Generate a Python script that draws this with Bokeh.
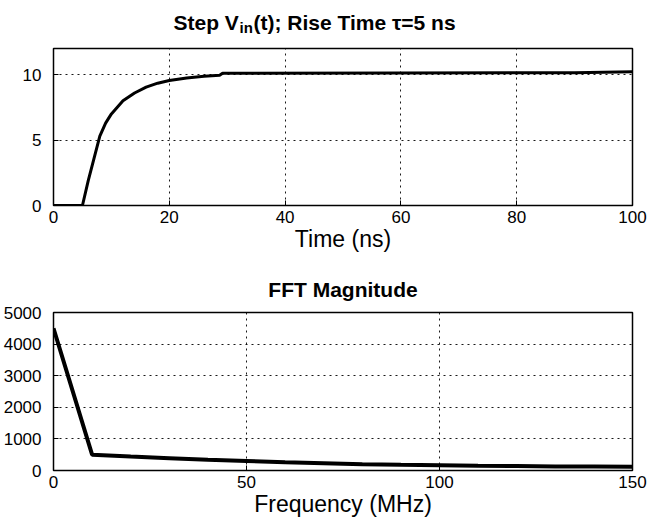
from bokeh.plotting import figure
from bokeh.layouts import column
from bokeh.models import Range1d, FixedTicker, Label
from bokeh.embed import file_html
from bokeh.resources import INLINE

# Step input V_in(t) sampled in ns
time_ns = [0, 5, 6, 7, 8, 9, 10, 12, 14, 16, 18, 20, 23, 26, 28.7, 29.2, 60, 90, 100]
vin = [0, 0, 1.9, 3.6, 5.3, 6.3, 7.0, 8.0, 8.6, 9.05, 9.35, 9.55, 9.75, 9.88, 9.95, 10.1, 10.13, 10.15, 10.22]

# FFT magnitude in MHz bins
freq_mhz = [0, 10, 20, 30, 40, 50, 60, 70, 80, 90, 100, 110, 120, 130, 140, 150]
fft_mag = [4500, 500, 440, 390, 340, 300, 260, 230, 200, 180, 165, 150, 140, 130, 125, 120]

top_xticks = [0, 20, 40, 60, 80, 100]
top_yticks = [0, 5, 10]
bot_xticks = [0, 50, 100, 150]
bot_yticks = [0, 1000, 2000, 3000, 4000, 5000]

FONT = "Liberation Sans"
TICK_SIZE = "17px"
LABEL_SIZE = "23px"
TITLE_SIZE = "21px"


def style(p, xticks, yticks, xlabel):
    p.outline_line_color = "black"
    p.outline_line_width = 1.5
    p.outline_line_alpha = 1.0
    p.background_fill_color = "white"
    p.border_fill_color = "white"
    p.xaxis.ticker = FixedTicker(ticks=xticks)
    p.yaxis.ticker = FixedTicker(ticks=yticks)
    for ax in (p.xaxis[0], p.yaxis[0]):
        ax.axis_line_color = None
        ax.major_tick_in = 5
        ax.major_tick_out = 0
        ax.major_tick_line_color = "black"
        ax.minor_tick_line_color = None
        ax.major_label_text_font = FONT
        ax.major_label_text_font_size = TICK_SIZE
        ax.major_label_text_color = "black"
    p.xaxis.major_label_standoff = 5
    p.yaxis.major_label_standoff = 12
    p.xaxis.axis_label = xlabel
    p.xaxis.axis_label_text_font = FONT
    p.xaxis.axis_label_text_font_size = LABEL_SIZE
    p.xaxis.axis_label_text_font_style = "normal"
    p.xaxis.axis_label_text_color = "black"
    p.xaxis.axis_label_standoff = 0
    for g in (p.xgrid[0], p.ygrid[0]):
        g.grid_line_color = "black"
        g.grid_line_dash = "2 4"
        g.grid_line_width = 1
        g.grid_line_alpha = 0.9


# Title strip above the step-response panel; its frame lines up with the
# panel frames below, so x is measured from the panels' left edge, y downward
head = figure(frame_width=647, frame_height=44,
              min_border_left=0, min_border_right=0, min_border_top=0, min_border_bottom=0,
              x_range=Range1d(0, 647), y_range=Range1d(44, 0),
              x_axis_type=None, y_axis_type=None,
              output_backend="svg", toolbar_location=None)
head.outline_line_color = None
head.grid.visible = False
common = dict(y_units="data", x_units="data", text_font=FONT, text_font_style="bold",
              text_color="black", text_baseline="alphabetic", text_align="left")
head.add_layout(Label(x=120, y=22, text="Step V", text_font_size=TITLE_SIZE, **common))
head.add_layout(Label(x=186, y=27, text="in", text_font_size="15px", **common))
head.add_layout(Label(x=200, y=22, text="(t); Rise Time \u03c4=5 ns", text_font_size=TITLE_SIZE, **common))

# Top panel: step response
p1 = figure(frame_width=579, frame_height=157,
            min_border_left=52, min_border_right=16,
            min_border_top=4, min_border_bottom=55,
            x_range=Range1d(0, 100), y_range=Range1d(0, 12),
            output_backend="svg", toolbar_location=None)
style(p1, top_xticks, top_yticks, "Time (ns)")
p1.line(time_ns, vin, line_color="black", line_width=3)

# Bottom panel: FFT magnitude
p2 = figure(frame_width=579, frame_height=158,
            min_border_left=53, min_border_right=15,
            min_border_top=52, min_border_bottom=56,
            x_range=Range1d(0, 150), y_range=Range1d(0, 5000),
            title="FFT Magnitude",
            output_backend="svg", toolbar_location=None)
p2.title.align = "center"
p2.title.text_font = FONT
p2.title.text_font_size = TITLE_SIZE
p2.title.text_font_style = "bold"
p2.title.text_color = "black"
p2.title.standoff = 24
style(p2, bot_xticks, bot_yticks, "Frequency (MHz)")
p2.line(freq_mhz, fft_mag, line_color="black", line_width=4)

layout = column(head, p1, p2, spacing=0)
open("out.html", "w").write(file_html(layout, INLINE))
